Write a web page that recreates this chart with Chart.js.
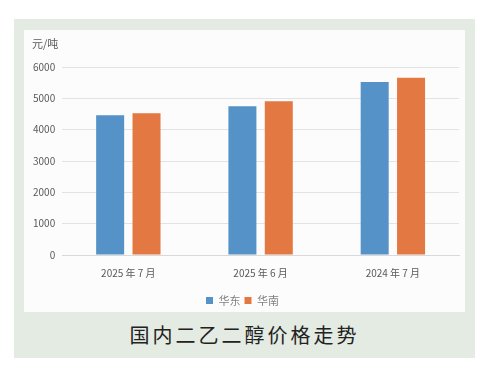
<!DOCTYPE html>
<html>
<head>
<meta charset="utf-8">
<script src="https://cdn.jsdelivr.net/npm/chart.js@4/dist/chart.umd.min.js"></script>
<style>
    html, body { margin: 0; padding: 0; background: #ffffff; }
    body { width: 480px; height: 375px; position: relative; overflow: hidden; font-family: 'Noto Sans CJK SC', 'Noto Sans', sans-serif; }
    #outer { position: absolute; left: 14px; top: 19px; width: 461px; height: 339px; background: #e3ebe2; }
    #panel { position: absolute; left: 24px; top: 30px; width: 441px; height: 282px; background: #fcfcfc; }
    #unit { position: absolute; left: 32px; top: 35px; font-size: 11px; color: #595959; }
    #caption { position: absolute; left: 14px; width: 461px; top: 320px; text-align: center; font-size: 20px; letter-spacing: 3px; color: #222222; }
</style>
</head>
<body>
<div id="outer"></div>
<div id="panel"><canvas id="price-chart" width="441" height="282"></canvas></div>
<div id="unit">元/吨</div>
<div id="caption">国内二乙二醇价格走势</div>
<script>
const categories = ['2025 年 7 月', '2025 年 6 月', '2024 年 7 月'];
const eastChina = [4460, 4745, 5520];
const southChina = [4525, 4905, 5660];
const yTicks = [0, 1000, 2000, 3000, 4000, 5000, 6000];

document.addEventListener('DOMContentLoaded', () => {
    Chart.defaults.animation = false;
    Chart.defaults.font.family = "'Noto Sans CJK SC', 'Noto Sans', sans-serif";

    const canvas = document.getElementById('price-chart');
    new Chart(canvas, {
        type: 'bar',
        data: {
            labels: categories,
            datasets: [{
                label: '华东',
                data: eastChina,
                backgroundColor: '#5592c7',
                categoryPercentage: 0.55,
                barPercentage: 0.77,
            }, {
                label: '华南',
                data: southChina,
                backgroundColor: '#e37843',
                categoryPercentage: 0.55,
                barPercentage: 0.77,
            }],
        },
        options: {
            responsive: false,
            layout: {
                padding: { top: 37, right: 6, left: 2, bottom: -4 },
            },
            plugins: {
                legend: {
                    position: 'bottom',
                    labels: {
                        boxWidth: 7,
                        boxHeight: 7,
                        padding: 4,
                        color: '#7f7f7f',
                        font: { size: 11 },
                    },
                },
                tooltip: { enabled: false },
            },
            scales: {
                x: {
                    grid: { display: false },
                    border: { color: '#d9d9d9' },
                    ticks: { color: '#595959', font: { size: 10 }, padding: 4 },
                    afterFit: (axis) => {
                        // leave a gap between category labels and the legend
                        axis.height += 8;
                    },
                },
                y: {
                    min: 0,
                    max: 6000,
                    afterBuildTicks: (axis) => {
                        axis.ticks = yTicks.map(v => ({ value: v }));
                    },
                    grid: { color: '#e3e3e3', drawTicks: false },
                    border: { display: false },
                    ticks: {
                        color: '#595959',
                        font: { size: 10 },
                        padding: 7,
                        callback: (value) => String(value),
                    },
                },
            },
        },
    });
});
</script>
</body>
</html>
